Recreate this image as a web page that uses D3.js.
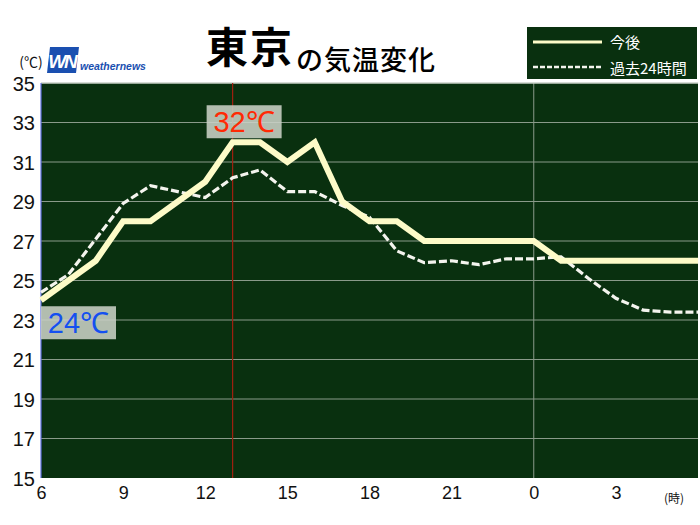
<!DOCTYPE html>
<html><head><meta charset="utf-8">
<script src="https://cdn.jsdelivr.net/npm/d3@7"></script>
<style>body{margin:0;background:#fff}svg{display:block}</style>
</head><body>
<svg id="c" width="700" height="525"></svg>
<script>
const hours = d3.range(6, 31); // 6..30 (30 = 6 next day)
const xTickValues = [6, 9, 12, 15, 18, 21, 24, 27];
const xTickLabels = ["6", "9", "12", "15", "18", "21", "0", "3"];
const yTickValues = [15, 17, 19, 21, 23, 25, 27, 29, 31, 33, 35];
const futureTemps = [24, 25, 26, 28, 28, 29, 30, 32, 32, 31, 32, 29, 28, 28, 27, 27, 27, 27, 27, 26, 26, 26, 26, 26, 26];
const pastTemps = [24.4, 25.3, 27.1, 28.9, 29.8, 29.5, 29.2, 30.2, 30.6, 29.5, 29.5, 28.8, 28.2, 26.5, 25.9, 26.0, 25.8, 26.1, 26.1, 26.2, 25.1, 24.1, 23.5, 23.4, 23.4];
const nowHour = 13;
const maxLabel = {hour: 13, value: 32, text: "32℃"};
const minLabel = {hour: 6, value: 24, text: "24℃"};

const svg = d3.select("#c");
const L = 41, R = 698, T = 83, B = 478;
const x = d3.scaleLinear().domain([6, 30]).range([L, R]);
const y = d3.scaleLinear().domain([15, 35]).range([B, T]);
const bg = "#09300f";
const numFont = "'Liberation Sans', Arial, sans-serif";
const jpFont = "'Noto Sans CJK JP', sans-serif";

svg.append("rect").attr("x", L).attr("y", T).attr("width", R - L).attr("height", B - T).attr("fill", bg);

// grid
svg.append("g").selectAll("line").data(yTickValues.slice(1, -1)).join("line")
  .attr("x1", L).attr("x2", R).attr("y1", d => y(d)).attr("y2", d => y(d))
  .attr("stroke", "#8a9a8a").attr("stroke-width", 1);
svg.append("line").attr("x1", x(24)).attr("x2", x(24)).attr("y1", T).attr("y2", B)
  .attr("stroke", "#8a9a8a").attr("stroke-width", 1);
svg.append("line").attr("x1", L).attr("x2", R).attr("y1", T).attr("y2", T)
  .attr("stroke", "#c8d0c8").attr("stroke-width", 1.5);
svg.append("line").attr("x1", L).attr("x2", L).attr("y1", T).attr("y2", B)
  .attr("stroke", "#6070e0").attr("stroke-width", 1.2);
// now line
svg.append("line").attr("x1", x(nowHour)).attr("x2", x(nowHour)).attr("y1", T).attr("y2", B)
  .attr("stroke", "#a02010").attr("stroke-width", 1.2);

// axes
const yAxis = d3.axisLeft(y).tickValues(yTickValues).tickSize(0).tickPadding(6).tickFormat(d3.format("d"));
const gy = svg.append("g").attr("transform", `translate(${L},0)`).call(yAxis);
gy.select(".domain").remove();
gy.selectAll("text").attr("font-family", numFont).attr("font-size", 20).attr("fill", "#111").attr("dy", "0.36em");

const xAxis = d3.axisBottom(x).tickValues(xTickValues).tickSize(0).tickPadding(8)
  .tickFormat((d, i) => xTickLabels[i]);
const gx = svg.append("g").attr("transform", `translate(0,${B})`).call(xAxis);
gx.select(".domain").remove();
gx.selectAll("text").attr("font-family", numFont).attr("font-size", 18).attr("fill", "#111");

svg.append("text").attr("x", 674).attr("y", 503).attr("text-anchor", "middle")
  .attr("font-family", jpFont).attr("font-size", 12).attr("fill", "#111").text("(時)");
svg.append("text").attr("x", 31).attr("y", 67).attr("text-anchor", "middle")
  .attr("font-family", jpFont).attr("font-size", 14).attr("fill", "#111").text("(℃)");

// lines
const line = d3.line().x((d, i) => x(hours[i])).y(d => y(d));
svg.append("path").datum(pastTemps).attr("d", line).attr("fill", "none")
  .attr("stroke", "#f4f4ee").attr("stroke-width", 3.2).attr("stroke-dasharray", "8,3");
svg.append("path").datum(futureTemps).attr("d", line).attr("fill", "none")
  .attr("stroke", "#fdfbc8").attr("stroke-width", 6).attr("stroke-linejoin", "miter");

// labels
function valueLabel(o, color, bx, by) {
  svg.append("rect").attr("x", bx).attr("y", by).attr("width", 75).attr("height", 33)
    .attr("fill", "#c9d0c6").attr("opacity", 0.88);
  svg.append("text").attr("x", bx + 37.5).attr("y", by + 27).attr("text-anchor", "middle")
    .attr("font-family", numFont).attr("font-size", 29).attr("fill", color).text(o.text);
}
valueLabel(maxLabel, "#ff2a05", x(maxLabel.hour) - 26, y(maxLabel.value) - 37);
valueLabel(minLabel, "#1450f0", x(minLabel.hour), y(minLabel.value) + 6);

// title
svg.append("text").attr("x", 206).attr("y", 63).attr("font-family", jpFont).attr("fill", "#000")
  .attr("font-size", 42).attr("font-weight", "bold").attr("letter-spacing", 2).text("東京");
svg.append("text").attr("x", 296).attr("y", 70).attr("font-family", jpFont).attr("fill", "#000")
  .attr("font-size", 27).attr("font-weight", 500).attr("letter-spacing", 1).text("の気温変化");

// logo
svg.append("path").attr("d", "M50,47 L79,47 L76,73 L47,73 Z").attr("fill", "#1a4fb0");
svg.append("text").attr("x", 62).attr("y", 68).attr("text-anchor", "middle")
  .attr("font-family", numFont).attr("font-size", 19).attr("font-weight", "bold").attr("font-style", "italic")
  .attr("fill", "#fff").attr("letter-spacing", -2).text("WN");
svg.append("text").attr("x", 80).attr("y", 70).attr("font-family", numFont).attr("font-size", 10.5)
  .attr("font-weight", "bold").attr("font-style", "italic").attr("fill", "#1a4fb0").text("weathernews");

// legend
svg.append("rect").attr("x", 527).attr("y", 27).attr("width", 170).attr("height", 52).attr("fill", bg);
svg.append("line").attr("x1", 533).attr("x2", 602).attr("y1", 42).attr("y2", 42)
  .attr("stroke", "#fdfbc8").attr("stroke-width", 3);
svg.append("line").attr("x1", 533).attr("x2", 602).attr("y1", 67).attr("y2", 67)
  .attr("stroke", "#f4f4ee").attr("stroke-width", 2.5).attr("stroke-dasharray", "5,2");
svg.append("text").attr("x", 610).attr("y", 48).attr("font-family", jpFont).attr("font-size", 15)
  .attr("fill", "#fff").text("今後");
svg.append("text").attr("x", 610).attr("y", 74).attr("font-family", jpFont).attr("font-size", 15)
  .attr("fill", "#fff").text("過去24時間");
</script>
</body></html>
